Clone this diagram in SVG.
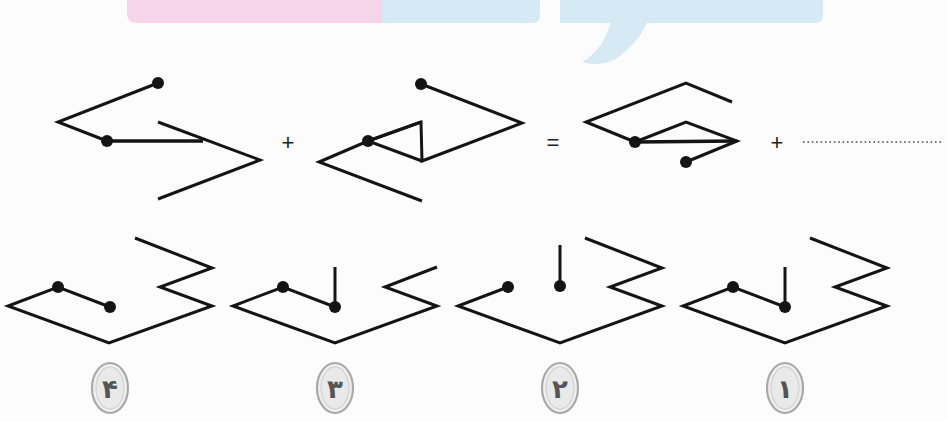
<svg xmlns="http://www.w3.org/2000/svg" width="947" height="421" viewBox="0 0 947 421">
<style>
.ln{fill:none;stroke:#141414;stroke-width:3;stroke-linejoin:miter;stroke-linecap:butt}
.dbl{fill:none;stroke:#141414;stroke-width:3.6}
.dot{fill:#141414}
.op{font-family:"Liberation Sans",Arial,sans-serif;font-size:22px;fill:#222;text-anchor:middle}
.ring{fill:#f0f0f0;stroke:#a9a9a9;stroke-width:2.2}
.inner{fill:#e9e9e9;stroke:#d6d6d6;stroke-width:1.5}
.num{font-family:"DejaVu Sans","Noto Sans",sans-serif;font-weight:bold;font-size:26px;fill:#555;text-anchor:middle}
</style>
<rect width="947" height="421" fill="#fcfcfc"/>
<g id="banner">
<path d="M127,-5 H382 V23 H137 Q127,23 127,13 Z" fill="#f6d4ea"/>
<path d="M382,-5 H540 V15 Q540,23 532,23 H382 Z" fill="#d6eaf5"/>
<path d="M560,-5 H823 V15 Q823,23 815,23 H560 Z" fill="#d6eaf5"/>
<path d="M611,20 C607,40 596,54 582,62 Q600,67 616,59 C631,48 642,36 648,20 Z" fill="#d6eaf5"/>
</g>
<g id="figA">
<polyline class="ln" points="158,83 58,122 107,141"/>
<line class="dbl" x1="107" y1="141" x2="203" y2="141"/>
<polyline class="ln" points="158,122 260,160 158,199"/>
<circle class="dot" cx="158" cy="83" r="6"/>
<circle class="dot" cx="107" cy="141" r="6"/>
</g>
<text class="op" x="288" y="150">+</text>
<g id="figB">
<polyline class="ln" points="421,84 522,123 422,161 421,122 368,141 422,161"/>
<polyline class="ln" points="421,122 368,141 319,162 422,201"/>
<circle class="dot" cx="421" cy="84" r="6"/>
<circle class="dot" cx="368" cy="141" r="6"/>
</g>
<text class="op" x="553" y="150">=</text>
<g id="figC">
<polyline class="ln" points="732,102 686,83 586,122 635,142"/>
<line class="dbl" x1="635" y1="142" x2="737" y2="141"/>
<polyline class="ln" points="635,142 686,122 737,141 686,162"/>
<circle class="dot" cx="635" cy="142" r="6"/>
<circle class="dot" cx="686" cy="162" r="6"/>
</g>
<text class="op" x="777" y="150">+</text>
<line x1="803" y1="142" x2="942" y2="142" stroke="#777" stroke-width="2" stroke-dasharray="1.6 2.8"/>
<g id="option4">
<polyline class="ln" points="135,238 212,268 160,287 212,306 109,343 8,306 58,287 110,307"/>
<circle class="dot" cx="58" cy="287" r="6"/>
<circle class="dot" cx="110" cy="307" r="6"/>
<ellipse class="ring" cx="110" cy="388" rx="18" ry="25"/>
<ellipse class="inner" cx="110" cy="388" rx="14" ry="21"/>
<text class="num" x="110" y="398">۴</text>
</g>
<g id="option3">
<polyline class="ln" points="437,267 385,287 437,306 335,343 233,306 283,287 335,307"/>
<line class="ln" x1="335" y1="307" x2="335" y2="267"/>
<circle class="dot" cx="283" cy="287" r="6"/>
<circle class="dot" cx="335" cy="307" r="6"/>
<ellipse class="ring" cx="335" cy="388" rx="18" ry="25"/>
<ellipse class="inner" cx="335" cy="388" rx="14" ry="21"/>
<text class="num" x="335" y="398">۳</text>
</g>
<g id="option2">
<polyline class="ln" points="585,238 662,268 610,287 662,306 560,343 458,306 508,287"/>
<line class="ln" x1="560" y1="286" x2="560" y2="245"/>
<circle class="dot" cx="508" cy="287" r="6"/>
<circle class="dot" cx="560" cy="286" r="6"/>
<ellipse class="ring" cx="560" cy="388" rx="18" ry="25"/>
<ellipse class="inner" cx="560" cy="388" rx="14" ry="21"/>
<text class="num" x="560" y="398">۲</text>
</g>
<g id="option1">
<polyline class="ln" points="810,238 887,268 835,287 887,306 785,343 683,306 733,287 785,307"/>
<line class="ln" x1="785" y1="307" x2="785" y2="267"/>
<circle class="dot" cx="733" cy="287" r="6"/>
<circle class="dot" cx="785" cy="307" r="6"/>
<ellipse class="ring" cx="785" cy="388" rx="18" ry="25"/>
<ellipse class="inner" cx="785" cy="388" rx="14" ry="21"/>
<text class="num" x="785" y="398">۱</text>
</g>
</svg>
